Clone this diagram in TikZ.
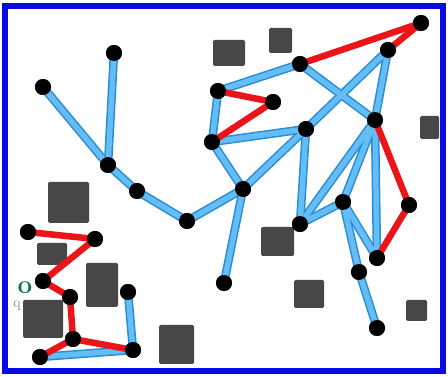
\documentclass[tikz,border=0pt]{standalone}
\begin{document}
\begin{tikzpicture}[x=1pt,y=-1pt,
  dot/.style={circle,fill=black,inner sep=0pt,minimum size=16pt},
  sq/.style={fill=black!72,rounded corners=1.5pt},
  bl/.style={line width=8.5pt,draw={rgb,255:red,40;green,140;blue,215}},
  blin/.style={line width=5.5pt,draw={rgb,255:red,100;green,190;blue,245}},
  rd/.style={line width=6.5pt,draw={rgb,255:red,235;green,20;blue,25}}]
\useasboundingbox (0,0) rectangle (448,377);
\fill[white] (0,0) rectangle (448,377);
\draw[line width=6.5pt,draw={rgb,255:red,10;green,10;blue,230}] (5,6) rectangle (443,371);
% obstacles
\fill[sq] (213,40) rectangle (245,66);
\fill[sq] (269,28) rectangle (292,53);
\fill[sq] (420,116) rectangle (439,139);
\fill[sq] (261,227) rectangle (294,256);
\fill[sq] (294,280) rectangle (324,308);
\fill[sq] (406,300) rectangle (427,321);
\fill[sq] (48,182) rectangle (89,223);
\fill[sq] (37,243) rectangle (67,265);
\fill[sq] (86,263) rectangle (118,307);
\fill[sq] (23,300) rectangle (63,338);
\fill[sq] (159,325) rectangle (194,364);
% nodes
\node[dot] (A) at (43,87) {};
\node[dot] (B) at (114,53) {};
\node[dot] (C) at (108,165) {};
\node[dot] (D) at (137,191) {};
\node[dot] (E) at (187,221) {};
\node[dot] (F) at (243,189) {};
\node[dot] (G) at (224,283) {};
\node[dot] (H) at (218,91) {};
\node[dot] (I) at (273,102) {};
\node[dot] (J) at (212,142) {};
\node[dot] (K) at (306,129) {};
\node[dot] (L) at (300,64) {};
\node[dot] (M) at (388,50) {};
\node[dot] (N) at (421,23) {};
\node[dot] (O) at (375,120) {};
\node[dot] (Q) at (409,205) {};
\node[dot] (R) at (377,258) {};
\node[dot] (S) at (343,202) {};
\node[dot] (T) at (300,224) {};
\node[dot] (U) at (359,272) {};
\node[dot] (V) at (377,328) {};
\node[dot] (n1) at (28,232) {};
\node[dot] (n2) at (95,239) {};
\node[dot] (n3) at (43,281) {};
\node[dot] (n4) at (70,297) {};
\node[dot] (n5) at (128,292) {};
\node[dot] (n6) at (73,339) {};
\node[dot] (n7) at (40,357) {};
\node[dot] (n8) at (133,350) {};
% blue edges
\foreach \s/\t in {A/C,B/C,C/D,D/E,E/F,F/G,F/J,F/K,J/H,J/K,H/L,L/O,M/K,M/O,K/T,T/O,T/S,S/O,O/R,S/R,S/U,U/V,n7/n8,n8/n5}{
  \draw[bl] (\s.center) -- (\t.center);
}
\foreach \s/\t in {A/C,B/C,C/D,D/E,E/F,F/G,F/J,F/K,J/H,J/K,H/L,L/O,M/K,M/O,K/T,T/O,T/S,S/O,O/R,S/R,S/U,U/V,n7/n8,n8/n5}{
  \draw[blin] (\s.center) -- (\t.center);
}
% red edges
\foreach \s/\t in {L/N,N/M,H/I,I/J,O/Q,Q/R,n1/n2,n2/n3,n3/n4,n4/n6,n6/n7,n6/n8}{
  \draw[rd] (\s.center) -- (\t.center);
}
% redraw nodes on top
\foreach \n in {A,B,C,D,E,F,G,H,I,J,K,L,M,N,O,Q,R,S,T,U,V,n1,n2,n3,n4,n5,n6,n7,n8}{
  \fill (\n) circle (8pt);
}
\node[text={rgb,255:red,20;green,120;blue,70},font=\bfseries\fontsize{26}{26}\selectfont,inner sep=0pt] (g1) at (25,288) {o};
\node[text={rgb,255:red,90;green,150;blue,100},font=\fontsize{15}{15}\selectfont,inner sep=0pt] (g2) at (17,306) {q};
\end{tikzpicture}
\end{document}
